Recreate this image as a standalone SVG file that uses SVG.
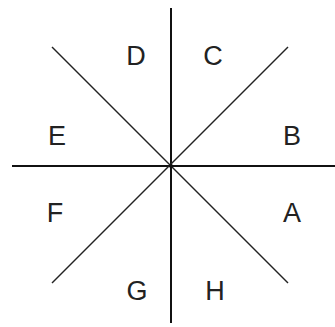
<svg xmlns="http://www.w3.org/2000/svg" width="335" height="327" viewBox="0 0 335 327">
<style>
.axis{stroke:#111;stroke-width:2;fill:none}
.diag{stroke:#222;stroke-width:1.5;fill:none}
.lbl{font-family:"Liberation Sans",Arial,sans-serif;font-size:27px;fill:#222;text-anchor:middle}
</style>
<rect width="335" height="327" fill="#fff"/>
<g id="connectors">
<line class="axis" x1="171" y1="8" x2="171" y2="323"/>
<line class="axis" x1="12" y1="166" x2="335" y2="166"/>
<line class="diag" x1="52" y1="47" x2="288" y2="283"/>
<line class="diag" x1="288" y1="47" x2="52" y2="283"/>
<circle cx="171" cy="166" r="2" fill="#111"/>
</g>
<g id="A"><text class="lbl" x="292" y="222">A</text></g>
<g id="B"><text class="lbl" x="292" y="145">B</text></g>
<g id="C"><text class="lbl" x="213" y="65">C</text></g>
<g id="D"><text class="lbl" x="136" y="65">D</text></g>
<g id="E"><text class="lbl" x="57" y="145">E</text></g>
<g id="F"><text class="lbl" x="55" y="222">F</text></g>
<g id="G"><text class="lbl" x="137" y="300">G</text></g>
<g id="H"><text class="lbl" x="215" y="300">H</text></g>
</svg>
